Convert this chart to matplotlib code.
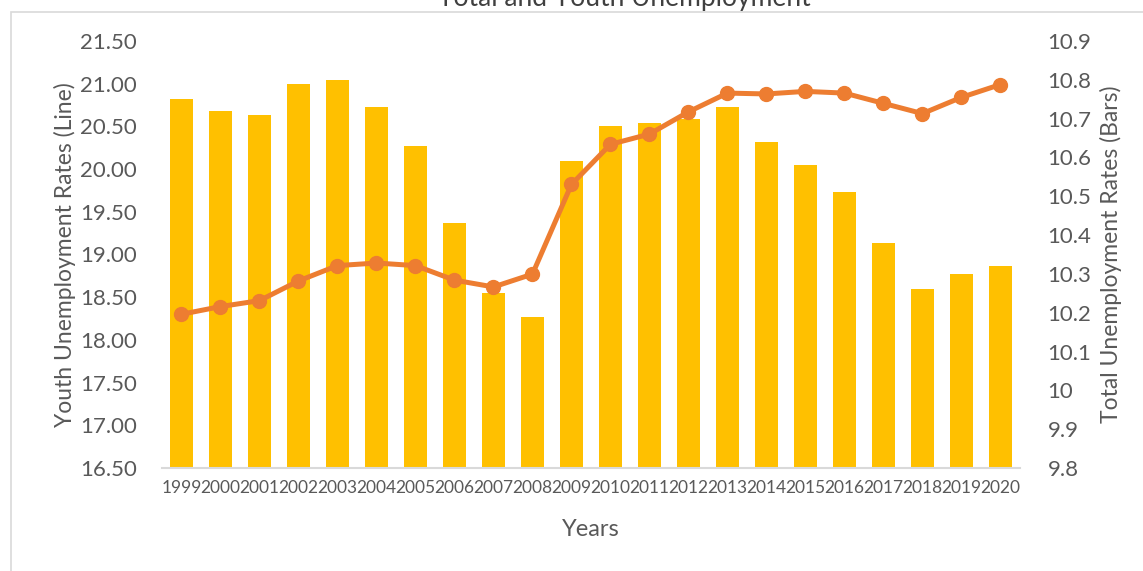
import numpy as np
import matplotlib.pyplot as plt
from matplotlib.patches import Rectangle

plt.rcParams['font.family'] = ['Lato', 'DejaVu Sans']

years = ['1999', '2000', '2001', '2002', '2003', '2004', '2005', '2006', '2007', '2008', '2009',
         '2010', '2011', '2012', '2013', '2014', '2015', '2016', '2017', '2018', '2019', '2020']
total_rate = [10.75, 10.72, 10.71, 10.79, 10.80, 10.73, 10.63, 10.43, 10.25, 10.19, 10.59,
              10.68, 10.69, 10.70, 10.73, 10.64, 10.58, 10.51, 10.38, 10.26, 10.30, 10.32]
youth_rate = [18.30, 18.39, 18.46, 18.69, 18.87, 18.90, 18.87, 18.70, 18.62, 18.77, 19.82,
              20.29, 20.41, 20.67, 20.89, 20.88, 20.91, 20.89, 20.77, 20.65, 20.84, 20.99]
left_ticks = [16.5, 17.0, 17.5, 18.0, 18.5, 19.0, 19.5, 20.0, 20.5, 21.0, 21.5]
right_ticks = [9.8, 9.9, 10.0, 10.1, 10.2, 10.3, 10.4, 10.5, 10.6, 10.7, 10.8, 10.9]
right_labels = ['9.8', '9.9', '10', '10.1', '10.2', '10.3', '10.4', '10.5', '10.6', '10.7', '10.8', '10.9']

txt = '#595959'
x = np.arange(len(years))

fig = plt.figure(figsize=(11.43, 5.71), dpi=100)
ax = fig.add_axes([0.1417, 0.1804, 0.7506, 0.7478])
ax2 = ax.twinx()

# bars on right axis, line on left axis; keep line drawn on top
ax.set_zorder(2)
ax.patch.set_visible(False)

ax2.bar(x, total_rate, width=0.6, color='#FFC000', bottom=0)
ax2.set_ylim(9.8, 10.9)
ax2.set_yticks(right_ticks)
ax2.set_yticklabels(right_labels)

ax.plot(x, youth_rate, '-o', color='#ED7D31', linewidth=3.6, markersize=10)
ax.set_ylim(16.5, 21.5)
ax.set_yticks(left_ticks)
ax.set_yticklabels(['%.2f' % v for v in left_ticks])
ax.set_xlim(-0.5, len(years) - 0.5)
ax.set_xticks(x)
ax.set_xticklabels(years)

for a in (ax, ax2):
    for s in ['top', 'left', 'right']:
        a.spines[s].set_visible(False)
    a.spines['bottom'].set_color('#D9D9D9')
    a.spines['bottom'].set_linewidth(1.5)
    a.tick_params(length=0)
ax2.spines['bottom'].set_visible(False)

ax.tick_params(axis='y', labelsize=16, labelcolor=txt, pad=18)
ax.tick_params(axis='x', labelsize=12.5, labelcolor=txt, pad=9)
ax2.tick_params(axis='y', labelsize=16, labelcolor=txt, pad=20)

ax.set_xlabel('Years', fontsize=17, color=txt, labelpad=16)
ax.set_ylabel('Youth Unemployment Rates (Line)', fontsize=16.5, color=txt, labelpad=3)
ax2.set_ylabel('Total Unemployment Rates (Bars)', fontsize=16.5, color=txt, labelpad=6)

# chart frame and clipped title
fig.patches.append(Rectangle((11 / 1143, -0.01), 1.1, 1 - 12 / 571 + 0.01, transform=fig.transFigure,
                             fill=False, edgecolor='#D9D9D9', linewidth=1.2))
fig.text(0.546, 1 - 6 / 571, 'Total and Youth Unemployment', fontsize=19, color='#404040',
         ha='center', va='baseline')

plt.savefig('out.png', dpi=100)
plt.close('all')
